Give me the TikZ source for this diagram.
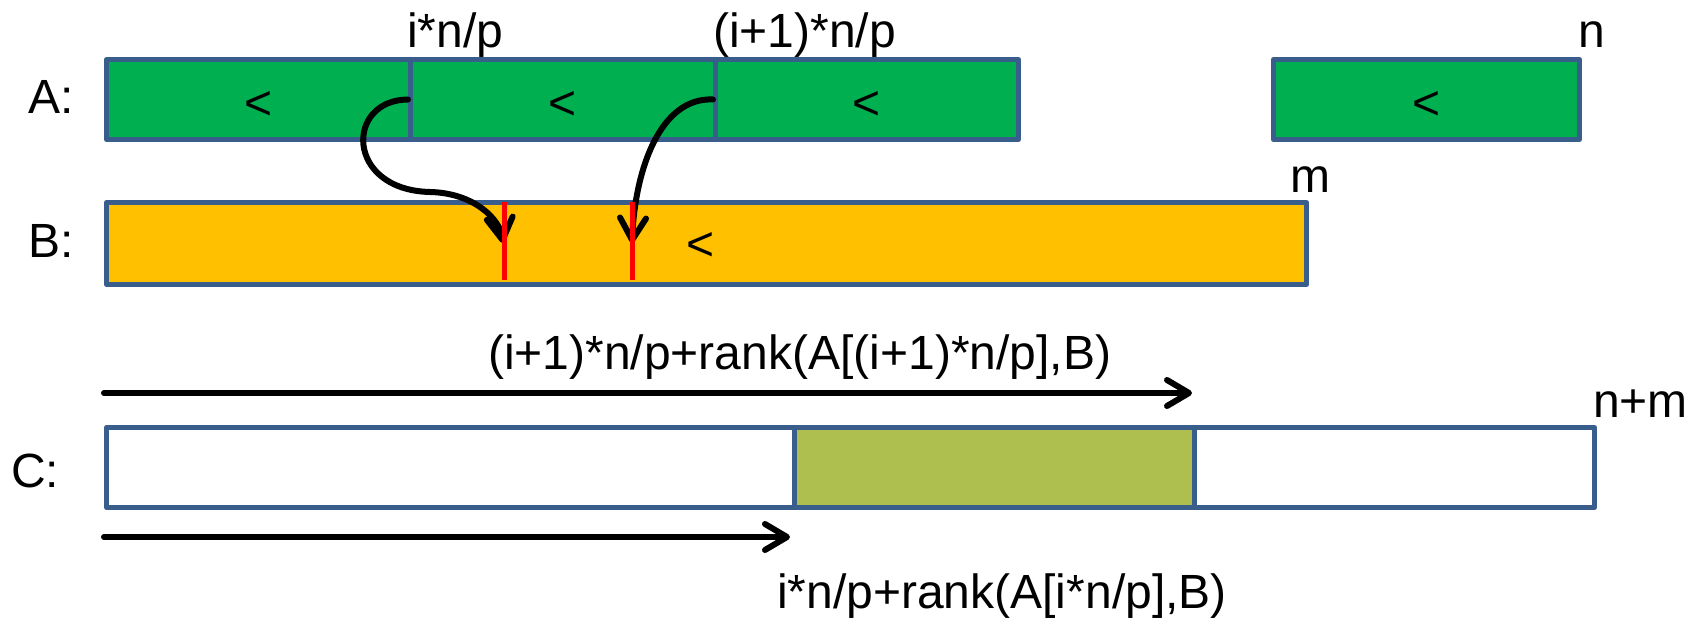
\documentclass[tikz,border=0pt]{standalone}
\usepackage{fontspec}
\setmainfont{Liberation Sans}
\usetikzlibrary{arrows.meta}

\definecolor{frame}{RGB}{57,94,139}
\definecolor{agreen}{RGB}{0,176,80}
\definecolor{bgold}{RGB}{255,192,0}
\definecolor{colive}{RGB}{174,191,80}
\definecolor{mark}{RGB}{255,0,0}

\tikzset{
  seg/.style={draw=frame, line width=5pt, rectangle, inner sep=0pt,
              anchor=north west, line join=round},
  txt/.style={inner sep=0pt, anchor=base west,
              font=\fontsize{48}{56}\selectfont},
  lt/.style={inner sep=0pt, font=\fontsize{48}{56}\selectfont},
  barb/.style={-{Straight Barb[length=22pt,width=26pt,line cap=round,line join=round]},
               line width=6pt, line cap=round, black},
  redmark/.style={draw=mark, line width=5pt},
}

\begin{document}
\begin{tikzpicture}[x=1pt,y=-1pt]
  \useasboundingbox (0,0) rectangle (1704,620);

  % array A: three consecutive blocks and a detached last block
  \node[seg, fill=agreen, minimum width=304pt, minimum height=80pt] (a1) at (104,57) {};
  \node[seg, fill=agreen, minimum width=305pt, minimum height=80pt] (a2) at (408,57) {};
  \node[seg, fill=agreen, minimum width=303pt, minimum height=80pt] (a3) at (713,57) {};
  \node[seg, fill=agreen, minimum width=306pt, minimum height=80pt] (a4) at (1271,57) {};

  % array B
  \node[seg, fill=bgold, minimum width=1200pt, minimum height=82pt] (b) at (104,200) {};

  % array C with the output block
  \node[seg, fill=white, minimum width=1488pt, minimum height=80pt] (c) at (104,425) {};
  \node[seg, fill=colive, minimum width=400pt, minimum height=80pt] (cg) at (792,425) {};

  % ordering marks
  \node[lt, yshift=-6pt] (lt1) at (a1) {<};
  \node[lt, yshift=-6pt] (lt2) at (a2) {<};
  \node[lt, yshift=-6pt] (lt3) at (a3) {<};
  \node[lt, yshift=-6pt] (lt4) at (a4) {<};
  \node[lt] (lt5) at (701,247) {<};

  % row names
  \node[txt] (la) at (28,114) {A:};
  \node[txt] (lb) at (28,258) {B:};
  \node[txt] (lc) at (11,487) {C:};

  % index labels
  \node[txt] (ip) at (407,48) {i*n/p};
  \node[txt] (i1p) at (713,48) {(i+1)*n/p};
  \node[txt] (ln) at (1578,48) {n};
  \node[txt] (lm) at (1290,193) {m};
  \node[txt] (lnm) at (1593,417) {n+m};

  % rank positions in B
  \coordinate (t1) at (503,243);
  \coordinate (t2) at (632,243);
  \coordinate (r1t) at (504,202);
  \coordinate (r1b) at (504,280);
  \coordinate (r2t) at (632,202);
  \coordinate (r2b) at (632,280);

  \draw[barb] (a2.west) .. controls (345,100) and (345,190) .. (430,192)
                        .. controls (475,193) and (500,220) .. (t1);
  \draw[barb] (a3.west) .. controls (660,97) and (635,170) .. (t2);

  \draw[redmark] (r1t) -- (r1b);
  \draw[redmark] (r2t) -- (r2b);

  % offsets into C
  \coordinate (s1) at (104,393);
  \coordinate (e1) at (1192,393);
  \coordinate (s2) at (104,537);
  \coordinate (e2) at (790,537);
  \draw[barb] (s1) -- (e1);
  \draw[barb] (s2) -- (e2);

  \node[txt] (top) at (488,369) {(i+1)*n/p+rank(A[(i+1)*n/p],B)};
  \node[txt] (bot) at (777,608) {i*n/p+rank(A[i*n/p],B)};
\end{tikzpicture}
\end{document}
